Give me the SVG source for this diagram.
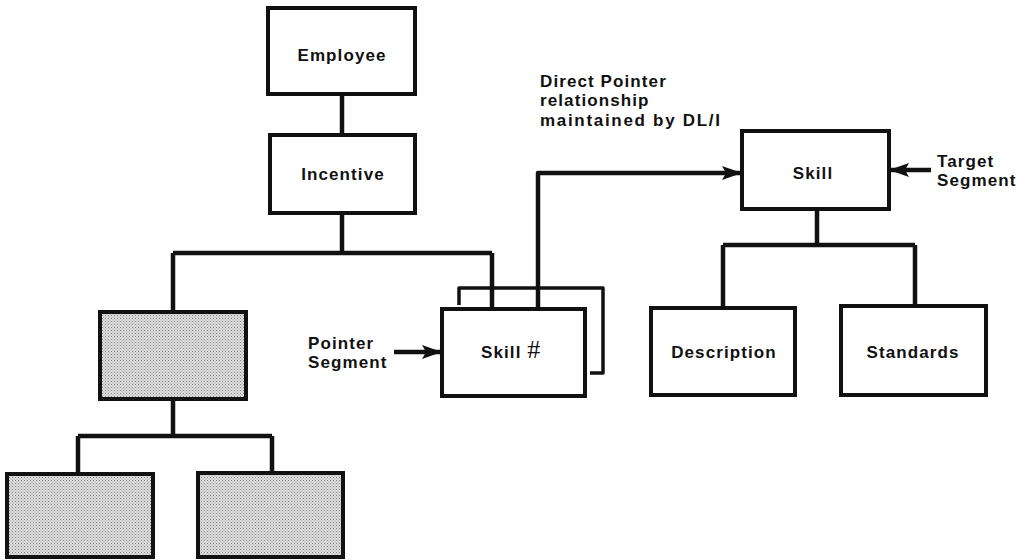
<svg xmlns="http://www.w3.org/2000/svg" width="1017" height="560" viewBox="0 0 1017 560">
  <defs>
    <style>
      .box { fill: #ffffff; stroke: #111; stroke-width: 4; }
      .shaded { fill: url(#stipple); stroke: #111; stroke-width: 4; }
      .wire { fill: none; stroke: #111; stroke-width: 4.5; stroke-linejoin: round; }
      .thin { fill: none; stroke: #111; stroke-width: 3.5; stroke-linejoin: round; }
      .lbl { font-family: "Liberation Sans", Arial, sans-serif; font-weight: bold; font-size: 17px; letter-spacing: 1.1px; fill: #111; }
      .mid { text-anchor: middle; }
      .hash { font-family: "Liberation Serif", serif; font-weight: normal; font-size: 26px; letter-spacing: 0; }
    </style>
    <pattern id="stipple" width="3" height="3" patternUnits="userSpaceOnUse">
      <rect width="3" height="3" fill="#dcdcdc"/>
      <rect x="0" y="0" width="1" height="1" fill="#888"/>
      <rect x="1.5" y="1.5" width="1" height="1" fill="#a4a4a4"/>
    </pattern>
    <marker id="arrow" markerWidth="20" markerHeight="14" refX="19" refY="7" orient="auto" markerUnits="userSpaceOnUse">
      <path d="M0,0 L20,7 L0,14 L4,7 Z" fill="#111"/>
    </marker>
  </defs>

  <!-- connectors -->
  <g id="connectors">
    <path class="wire" d="M342,94 V135"/>
    <path class="wire" d="M342,213 V253 M173,253 H492 M173,253 V312 M492,253 V309"/>
    <path class="wire" d="M173,399 V436 M78,436 H272 M78,436 V474 M272,436 V473"/>
    <path class="wire" d="M817,209 V245 M723,245 H915 M723,245 V308 M915,245 V306"/>
    <path class="wire" d="M538,309 V173 H741" marker-end="url(#arrow)"/>
    <path class="wire" d="M394,352 H441" marker-end="url(#arrow)"/>
    <path class="wire" d="M931,170 H890" marker-end="url(#arrow)"/>
  </g>

  <g id="employee">
    <rect class="box" x="268" y="8" width="147" height="86"/>
    <text class="lbl mid" x="342" y="61">Employee</text>
  </g>

  <g id="incentive">
    <rect class="box" x="270" y="135" width="145" height="78"/>
    <text class="lbl mid" x="343" y="180">Incentive</text>
  </g>

  <g id="shaded-parent">
    <rect class="shaded" x="100" y="312" width="146" height="87"/>
  </g>
  <g id="shaded-left">
    <rect class="shaded" x="7" y="474" width="146" height="83"/>
  </g>
  <g id="shaded-right">
    <rect class="shaded" x="198" y="473" width="145" height="84"/>
  </g>

  <g id="skill-number">
    <!-- stacked occurrence behind the pointer segment -->
    <path class="thin" d="M459,305 V288 H603 V373 H590"/>
    <rect class="box" x="442" y="309" width="143" height="87"/>
    <text class="lbl" x="481" y="358">Skill <tspan class="hash">#</tspan></text>
  </g>

  <g id="pointer-label">
    <text class="lbl" x="308" y="349">Pointer</text>
    <text class="lbl" x="308" y="368">Segment</text>
  </g>

  <g id="direct-pointer-label">
    <text class="lbl" x="540" y="87">Direct Pointer</text>
    <text class="lbl" x="540" y="106">relationship</text>
    <text class="lbl" x="540" y="126" textLength="181" lengthAdjust="spacing">maintained by DL/I</text>
  </g>

  <g id="skill">
    <rect class="box" x="742" y="131" width="147" height="78"/>
    <text class="lbl mid" x="813" y="179">Skill</text>
  </g>

  <g id="target-label">
    <text class="lbl" x="937" y="167">Target</text>
    <text class="lbl" x="937" y="186">Segment</text>
  </g>

  <g id="description">
    <rect class="box" x="651" y="308" width="144" height="87"/>
    <text class="lbl mid" x="724" y="358">Description</text>
  </g>

  <g id="standards">
    <rect class="box" x="841" y="306" width="145" height="89"/>
    <text class="lbl mid" x="913" y="358">Standards</text>
  </g>
</svg>
